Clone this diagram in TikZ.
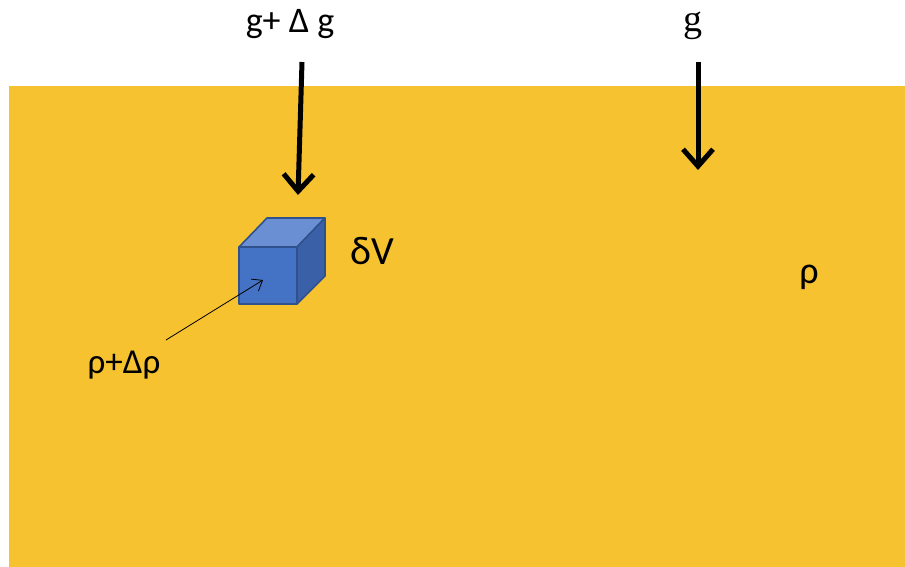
\documentclass[tikz,border=0pt]{standalone}
\usepackage{fontspec}
\setmainfont{Carlito}
\newfontfamily\serifg{Liberation Serif}
\usetikzlibrary{arrows.meta}
\definecolor{bg}{HTML}{F6C22F}
\definecolor{cubefront}{HTML}{4472C4}
\definecolor{cubetop}{HTML}{6B8FD3}
\definecolor{cubeside}{HTML}{3A60A8}
\definecolor{cubeline}{HTML}{2F528F}
\tikzset{
  lbl/.style={inner sep=0pt, anchor=base, font=\fontsize{36}{38}\selectfont},
  bigarrow/.style={line width=5pt, -{Straight Barb[length=17pt,width=30pt,line width=5pt]}},
  thinarrow/.style={line width=0.8pt, -{Straight Barb[length=9pt,width=14pt,line width=0.8pt]}},
  face/.style={draw=cubeline, line width=1.6pt, line join=round}
}
\begin{document}
\begin{tikzpicture}[x=1pt,y=-1pt]
\useasboundingbox (0,0) rectangle (905,567);
\fill[bg] (9,86) rectangle (905,567);
% cube
\filldraw[face, fill=cubetop] (239,247) -- (267,218) -- (325,218) -- (297,247) -- cycle;
\filldraw[face, fill=cubeside] (297,247) -- (325,218) -- (325,276) -- (297,304) -- cycle;
\filldraw[face, fill=cubefront] (239,247) rectangle (297,304);
% labels
\node[lbl] (gdg) at (290,33) {g+ Δ g};
\node[lbl, font=\serifg\fontsize{38}{40}\selectfont] (g) at (693,32) {g};
\node[lbl, font=\fontsize{40}{42}\selectfont] (dv) at (372,264) {δV};
\node[lbl, font=\fontsize{38}{40}\selectfont] (rho) at (809,283) {ρ};
\node[lbl, font=\fontsize{35}{37}\selectfont] (rdr) at (124,373) {ρ+Δρ};
% arrows
\coordinate (a1s) at (302,62);
\coordinate (a1e) at (298,195);
\coordinate (a2s) at (698,62);
\coordinate (a2e) at (698,170);
\coordinate (t1s) at (166,340);
\coordinate (t1e) at (263,280);
\draw[bigarrow] (a1s) -- (a1e);
\draw[bigarrow] (a2s) -- (a2e);
\draw[thinarrow] (t1s) -- (t1e);
\end{tikzpicture}
\end{document}
